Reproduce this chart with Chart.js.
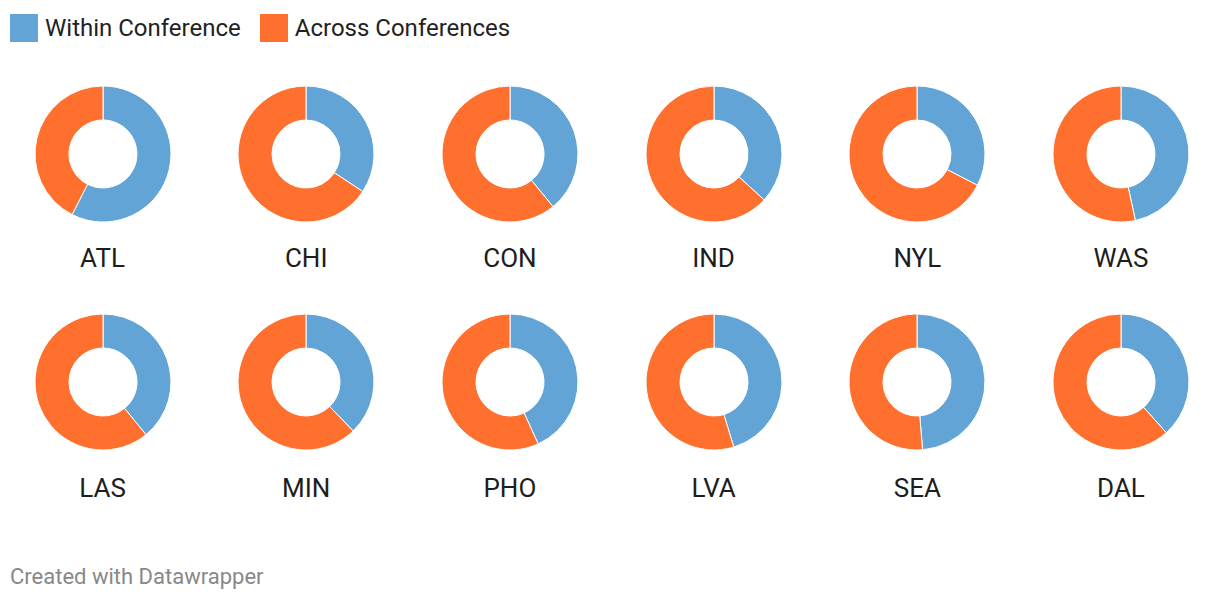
<!DOCTYPE html>
<html>
<head>
<meta charset="utf-8">
<script src="https://cdn.jsdelivr.net/npm/chart.js@4.4.1/dist/chart.umd.min.js"></script>
<style>
  body { margin: 0; background: #fff; font-family: Roboto, sans-serif; }
  #wrap { position: relative; width: 1220px; height: 600px; overflow: hidden; }
  .legend { position: absolute; left: 10px; top: 14px; display: flex; align-items: center; font-size: 24px; color: #222; }
  .legend .sw { width: 28px; height: 28px; margin-right: 7px; }
  .legend .item { display: flex; align-items: center; margin-right: 19px; }
  .cell { position: absolute; width: 150px; }
  .cell canvas { display: block; }
  .label { position: absolute; width: 200px; text-align: center; font-size: 26px; color: #1d1d1d; line-height: 30px; }
  .footer { position: absolute; left: 10px; top: 564px; font-size: 22px; color: #888; }
</style>
</head>
<body>
<div id="wrap">
  <div class="legend" id="legend"></div>
  <div id="grid"></div>
  <div class="footer">Created with Datawrapper</div>
</div>
<script>
const seriesNames = ["Within Conference", "Across Conferences"];
const seriesColors = ["#62a4d5", "#ff6f2d"];
const teams = ["ATL", "CHI", "CON", "IND", "NYL", "WAS", "LAS", "MIN", "PHO", "LVA", "SEA", "DAL"];
const withinConf = [57.5, 34.3, 39.1, 36.8, 32.6, 46.6, 39.1, 37.8, 43.2, 45.3, 48.7, 38.4];
const acrossConf = [42.5, 65.7, 60.9, 63.2, 67.4, 53.4, 60.9, 62.2, 56.8, 54.7, 51.3, 61.6];

// legend
const legend = document.getElementById("legend");
seriesNames.forEach((name, i) => {
    const item = document.createElement("div");
    item.className = "item";
    item.innerHTML = `<div class="sw" style="background:${seriesColors[i]}"></div><span>${name}</span>`;
    legend.appendChild(item);
});

// grid of donuts
const grid = document.getElementById("grid");
teams.forEach((team, i) => {
    const col = i % 6;
    const row = Math.floor(i / 6);
    const cx = 102.5 + col * 203.7;
    const cy = 154 + row * 227.7;

    const cell = document.createElement("div");
    cell.className = "cell";
    cell.style.left = (cx - 75) + "px";
    cell.style.top = (cy - 75) + "px";
    const canvas = document.createElement("canvas");
    canvas.width = 150;
    canvas.height = 150;
    cell.appendChild(canvas);
    grid.appendChild(cell);

    const label = document.createElement("div");
    label.className = "label";
    label.textContent = team;
    label.style.left = (cx - 100) + "px";
    label.style.top = (cy + 89 + row * 2) + "px";
    grid.appendChild(label);

    new Chart(canvas.getContext("2d"), {
        type: "doughnut",
        data: {
            labels: seriesNames,
            datasets: [
                {
                    data: [withinConf[i], acrossConf[i]],
                    backgroundColor: seriesColors,
                    borderColor: "#fff",
                    borderWidth: 1,
                },
            ],
        },
        options: {
            responsive: false,
            animation: false,
            radius: 68,
            cutout: "50%",
            layout: { padding: 0 },
            plugins: {
                legend: { display: false },
                tooltip: { enabled: false },
            },
        },
    });
});
</script>
</body>
</html>
